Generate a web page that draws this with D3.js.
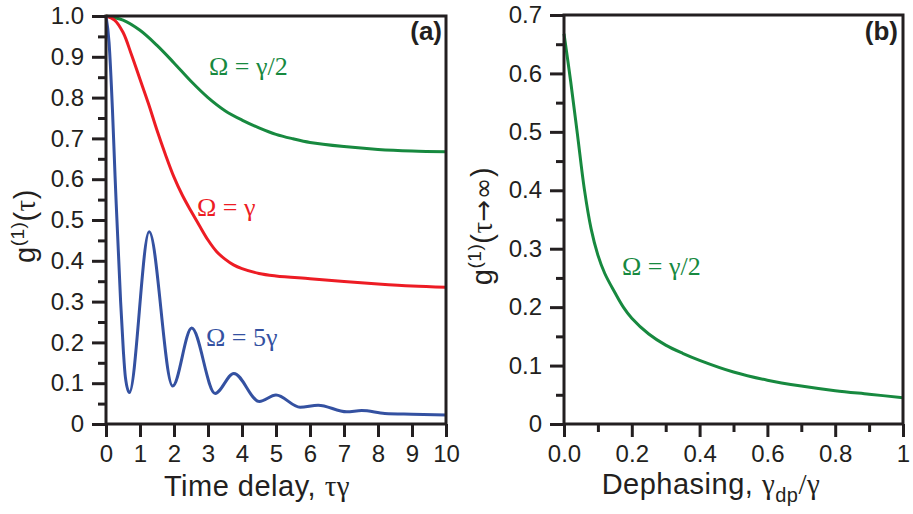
<!DOCTYPE html>
<html>
<head>
<meta charset="utf-8">
<script src="https://cdn.jsdelivr.net/npm/d3@7"></script>
<style>
  body { margin: 0; background: #fff; }
  svg { display: block; }
</style>
</head>
<body>
<svg id="chart" width="913" height="514"></svg>
<script>
// ---- Panel (a): first-order coherence g(1)(tau) for three Rabi frequencies ----
const tauGreen = [0, 0.5, 1, 1.5, 2, 2.5, 3, 3.5, 4, 4.5, 5, 5.5, 6, 7, 8, 9, 10];
const gGreen   = [1.0, 0.99, 0.965, 0.928, 0.885, 0.84, 0.8, 0.768, 0.745, 0.726, 0.71, 0.699, 0.69, 0.68, 0.673, 0.669, 0.667];

const tauRed = [0, 0.25, 0.5, 0.75, 1, 1.25, 1.5, 1.75, 2, 2.25, 2.5, 2.75, 3, 3.25, 3.5, 3.75, 4, 4.5, 5, 6, 7, 8, 9, 10];
const gRed   = [1.0, 0.99, 0.96, 0.905, 0.845, 0.785, 0.72, 0.66, 0.605, 0.56, 0.522, 0.486, 0.451, 0.423, 0.404, 0.39, 0.381, 0.369, 0.363, 0.356, 0.349, 0.343, 0.338, 0.335];

const tauBlue = [0, 0.09, 0.19, 0.265, 0.3, 0.43, 0.51, 0.57, 0.686, 1.27, 1.96, 2.52, 3.21, 3.76, 4.51, 5.0, 5.71, 6.24, 7.08, 7.52, 8.2, 9, 10];
const gBlue   = [1.0, 0.935, 0.77, 0.61, 0.54, 0.30, 0.18, 0.115, 0.077, 0.471, 0.093, 0.235, 0.075, 0.124, 0.055, 0.071, 0.041, 0.046, 0.030, 0.033, 0.026, 0.024, 0.022];

const xTicksA  = [0, 1, 2, 3, 4, 5, 6, 7, 8, 9, 10];
const xLabelsA = ["0", "1", "2", "3", "4", "5", "6", "7", "8", "9", "10"];
const yTicksA  = [0, 0.1, 0.2, 0.3, 0.4, 0.5, 0.6, 0.7, 0.8, 0.9, 1.0];
const yLabelsA = ["0", "0.1", "0.2", "0.3", "0.4", "0.5", "0.6", "0.7", "0.8", "0.9", "1.0"];
const yMinorA  = [0.05, 0.15, 0.25, 0.35, 0.45, 0.55, 0.65, 0.75, 0.85, 0.95];

// ---- Panel (b): long-time coherence vs dephasing rate ----
const dephasing = [0, 0.02, 0.04, 0.06, 0.08, 0.1, 0.12, 0.15, 0.175, 0.2, 0.25, 0.3, 0.35, 0.4, 0.5, 0.6, 0.7, 0.8, 0.9, 1.0];
const gInf      = [0.668, 0.585, 0.494, 0.402, 0.334, 0.289, 0.258, 0.225, 0.2, 0.181, 0.154, 0.135, 0.121, 0.109, 0.089, 0.075, 0.065, 0.057, 0.051, 0.045];

const xTicksB  = [0, 0.2, 0.4, 0.6, 0.8, 1];
const xLabelsB = ["0.0", "0.2", "0.4", "0.6", "0.8", "1"];
const xMinorB  = [0.1, 0.3, 0.5, 0.7, 0.9];
const yTicksB  = [0, 0.1, 0.2, 0.3, 0.4, 0.5, 0.6, 0.7];
const yLabelsB = ["0", "0.1", "0.2", "0.3", "0.4", "0.5", "0.6", "0.7"];
const yMinorB  = [0.05, 0.15, 0.25, 0.35, 0.45, 0.55, 0.65];

const ink = "#231f20";
const green = "#17893f";
const red = "#ed1c24";
const blue = "#3451a1";
const sans = "'Liberation Sans', Arial, Helvetica, sans-serif";
const serif = "'Liberation Serif', 'Times New Roman', serif";

const svg = d3.select("#chart");

function drawFrame(x, y, xTicks, xLabels, xMinor, yTicks, yLabels, yMinor) {
  const [x0, x1] = x.range();
  const [y0, y1] = y.range();
  const g = svg.append("g");

  const styleAxis = sel => {
    sel.select(".domain").remove();
    sel.selectAll(".tick line").attr("stroke", ink).attr("stroke-width", 3);
    sel.selectAll(".tick text")
      .attr("fill", ink)
      .style("font-family", sans)
      .style("font-size", "24px");
  };

  g.append("g").attr("transform", `translate(${x0},0)`)
    .call(d3.axisLeft(y).tickValues(yTicks).tickFormat((d, i) => yLabels[i])
      .tickSize(14).tickPadding(8).tickSizeOuter(0))
    .call(styleAxis);
  g.append("g").attr("transform", `translate(${x0},0)`)
    .call(d3.axisLeft(y).tickValues(yMinor).tickFormat("").tickSize(8).tickSizeOuter(0))
    .call(styleAxis);

  g.append("g").attr("transform", `translate(0,${y0})`)
    .call(d3.axisBottom(x).tickValues(xTicks).tickFormat((d, i) => xLabels[i])
      .tickSize(13).tickPadding(8).tickSizeOuter(0))
    .call(styleAxis);
  if (xMinor.length) {
    g.append("g").attr("transform", `translate(0,${y0})`)
      .call(d3.axisBottom(x).tickValues(xMinor).tickFormat("").tickSize(8).tickSizeOuter(0))
      .call(styleAxis);
  }

  g.append("rect")
    .attr("x", x0).attr("y", y1)
    .attr("width", x1 - x0).attr("height", y0 - y1)
    .attr("fill", "none").attr("stroke", ink).attr("stroke-width", 3);
}

function drawCurve(x, y, xs, ys, color, curve) {
  const line = d3.line()
    .x((d, i) => x(xs[i]))
    .y(d => y(d))
    .curve(curve);
  svg.append("path")
    .attr("d", line(ys))
    .attr("fill", "none")
    .attr("stroke", color)
    .attr("stroke-width", 3)
    .attr("stroke-linejoin", "round");
}

function curveLabel(px, py, txt, color) {
  svg.append("text")
    .attr("x", px).attr("y", py)
    .attr("fill", color)
    .style("font-family", serif)
    .style("font-size", "26px")
    .text(txt);
}

function titleText(x, y, rotate) {
  return svg.append("text")
    .attr("transform", `translate(${x},${y})` + (rotate ? " rotate(-90)" : ""))
    .attr("text-anchor", "middle").attr("fill", ink)
    .style("font-family", sans).style("font-size", "29px")
    .style("letter-spacing", "0.5px");
}

// Panel (a)
const xA = d3.scaleLinear().domain([0, 10]).range([106, 446]);
const yA = d3.scaleLinear().domain([0, 1]).range([424, 16]);
drawCurve(xA, yA, tauGreen, gGreen, green, d3.curveCatmullRom.alpha(0.5));
drawCurve(xA, yA, tauRed, gRed, red, d3.curveCatmullRom.alpha(0.5));
drawCurve(xA, yA, tauBlue, gBlue, blue, d3.curveMonotoneX);
drawFrame(xA, yA, xTicksA, xLabelsA, [], yTicksA, yLabelsA, yMinorA);

curveLabel(209, 75, "Ω = γ/2", green);
curveLabel(197, 216, "Ω = γ", red);
curveLabel(206, 346, "Ω = 5γ", blue);

svg.append("text").attr("x", 442).attr("y", 40).attr("text-anchor", "end")
  .attr("fill", ink).style("font-family", sans).style("font-size", "26px")
  .style("font-weight", "bold").text("(a)");

{
  const t = titleText(257, 496, false);
  t.append("tspan").text("Time delay, ");
  t.append("tspan").style("font-family", serif).text("τγ");
}
{
  const t = titleText(35, 226, true);
  t.append("tspan").text("g");
  t.append("tspan").attr("dy", -11).style("font-size", "19px").text("(1)");
  t.append("tspan").attr("dy", 11).text("(");
  t.append("tspan").style("font-family", serif).text("τ");
  t.append("tspan").text(")");
}

// Panel (b)
const xB = d3.scaleLinear().domain([0, 1]).range([564, 903]);
const yB = d3.scaleLinear().domain([0, 0.7]).range([424, 15]);
drawCurve(xB, yB, dephasing, gInf, green, d3.curveCatmullRom.alpha(0.5));
drawFrame(xB, yB, xTicksB, xLabelsB, xMinorB, yTicksB, yLabelsB, yMinorB);

curveLabel(622, 275, "Ω = γ/2", green);

svg.append("text").attr("x", 898).attr("y", 40).attr("text-anchor", "end")
  .attr("fill", ink).style("font-family", sans).style("font-size", "26px")
  .style("font-weight", "bold").text("(b)");

{
  const t = titleText(711, 494, false);
  t.append("tspan").text("Dephasing, ");
  t.append("tspan").style("font-family", serif).text("γ");
  t.append("tspan").attr("dy", 8).style("font-size", "20px").text("dp");
  t.append("tspan").attr("dy", -8).style("font-family", serif).text("/γ");
}
{
  const t = titleText(492, 226, true);
  t.append("tspan").text("g");
  t.append("tspan").attr("dy", -11).style("font-size", "19px").text("(1)");
  t.append("tspan").attr("dy", 11).text("(");
  t.append("tspan").style("font-family", serif).text("τ");
  t.append("tspan").style("font-family", "'DejaVu Sans', sans-serif").style("font-size", "26px").text("→∞");
  t.append("tspan").text(")");
}
</script>
</body>
</html>
